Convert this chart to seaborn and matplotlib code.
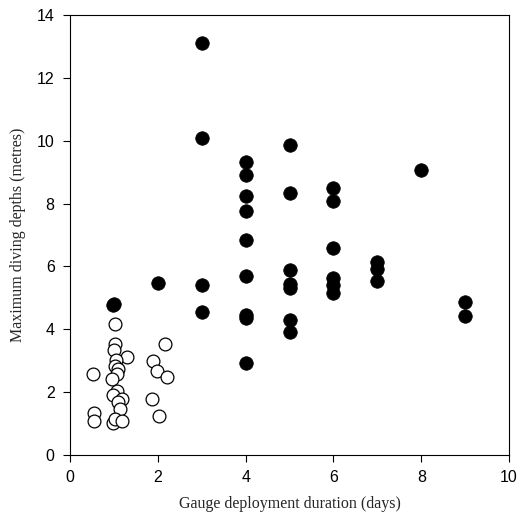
import matplotlib
matplotlib.use("Agg")
import matplotlib.pyplot as plt
import seaborn as sns
import pandas as pd

# Filled circles
filled_x = [0.99, 1.01, 2, 3, 3, 3, 3,
            4, 4, 4, 4, 4, 4, 4, 4, 4,
            5, 5, 5, 5, 5, 5, 5,
            6, 6, 6, 6, 6, 6,
            7, 7, 7, 8, 9, 9]
filled_y = [4.78, 4.80, 5.48, 13.12, 10.08, 5.41, 4.56,
            9.31, 8.92, 8.24, 7.76, 6.84, 5.71, 4.45, 4.35, 2.93,
            9.86, 8.33, 5.87, 5.44, 5.32, 4.30, 3.92,
            8.48, 8.07, 6.58, 5.62, 5.40, 5.15,
            6.14, 5.92, 5.54, 9.07, 4.86, 4.43]

# Open circles
open_x = [1.03, 1.03, 1.01, 1.29, 1.04, 1.03, 1.10, 1.08, 0.96, 0.53,
          1.06, 0.97, 1.18, 1.10, 1.14, 0.55, 0.55, 0.99, 1.03, 1.18,
          2.16, 1.90, 1.99, 2.20, 1.87, 2.03]
open_y = [4.16, 3.52, 3.34, 3.13, 3.02, 2.83, 2.72, 2.57, 2.42, 2.57,
          2.04, 1.91, 1.78, 1.70, 1.45, 1.35, 1.08, 1.03, 1.13, 1.08,
          3.52, 2.99, 2.68, 2.49, 1.78, 1.24]

sns.set_style("white")
plt.rcParams['font.family'] = ['Liberation Sans', 'DejaVu Sans']

fig = plt.figure(figsize=(5.2, 5.22), dpi=100)
ax = fig.add_axes([0.1346, 0.1284, 0.979 - 0.1346, 0.9713 - 0.1284])

df_f = pd.DataFrame({"x": filled_x, "y": filled_y})
df_o = pd.DataFrame({"x": open_x, "y": open_y})

sns.scatterplot(data=df_o, x="x", y="y", ax=ax, s=85, color="white",
                edgecolor="black", linewidth=0.9, zorder=3)
sns.scatterplot(data=df_f, x="x", y="y", ax=ax, s=95, color="black",
                edgecolor="black", linewidth=0.5, zorder=4)

ax.set_xlim(0, 10)
ax.set_ylim(0, 14)
ax.set_xticks([0, 2, 4, 6, 8, 10])
ax.set_yticks([0, 2, 4, 6, 8, 10, 12, 14])
ax.tick_params(axis="both", direction="out", length=5, width=0.8,
               labelsize=11.5, colors="black", bottom=True, left=True,
               top=False, right=False, pad=6)
for sp in ax.spines.values():
    sp.set_visible(True)
    sp.set_color("black")
    sp.set_linewidth(0.8)

ax.set_xlabel("Gauge deployment duration (days)", family="Liberation Serif",
              fontsize=11.5, labelpad=8)
ax.set_ylabel("Maximum diving depths (metres)", family="Liberation Serif",
              fontsize=11.5, labelpad=8)

fig.savefig("out.png", dpi=100)
